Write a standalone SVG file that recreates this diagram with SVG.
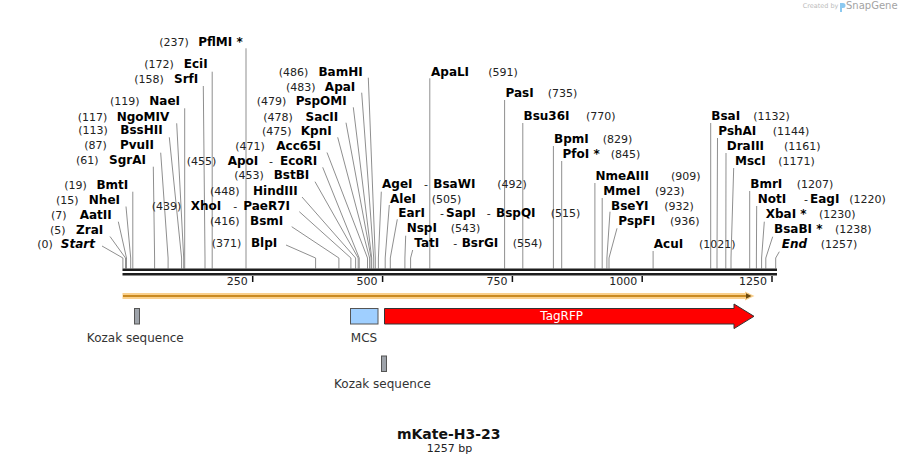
<svg xmlns="http://www.w3.org/2000/svg" width="900" height="466" viewBox="0 0 900 466">
<style>
.n{font-family:"DejaVu Sans",Verdana,sans-serif;font-size:11px;fill:#222}
.b{font-family:"DejaVu Sans",Verdana,sans-serif;font-size:12px;font-weight:bold;fill:#000}
.i{font-style:italic}
.e{text-anchor:end}
.m{text-anchor:middle}
.ln{fill:none;stroke:#8f8f8f;stroke-width:1}
.f{font-family:"DejaVu Sans",Verdana,sans-serif;font-size:12px;fill:#333}
.tk{stroke:#111;stroke-width:1.5}
</style>
<rect width="900" height="466" fill="#fff"/>
<g id="watermark">
<text x="802.7" y="8.3" style="font-family:'DejaVu Sans',sans-serif;font-size:6.5px;fill:#bbb">Created by</text>
<path d="M840 3 h3 a2.5 2.5 0 0 1 0 5 h-1 v4 h-2 z" fill="#8cc9f0"/>
<text x="846" y="8.7" style="font-family:'DejaVu Sans',sans-serif;font-size:10px;fill:#a3a3a3">SnapGene</text>
</g>
<g id="connectors">
<path class="ln" d="M102 246 L122.9 258 V268.5"/>
<path class="ln" d="M110 236.5 L125.5 258 V268.5"/>
<path class="ln" d="M118.3 221.7 L126.5 258 V268.5"/>
<path class="ln" d="M126 206.5 L130.7 258 V268.5"/>
<path class="ln" d="M132.8 191.7 V268.5"/>
<path class="ln" d="M153.3 166.7 L154.6 258 V268.5"/>
<path class="ln" d="M160.7 152.7 L168.1 258 V268.5"/>
<path class="ln" d="M169.3 137.3 L181.6 258 V268.5"/>
<path class="ln" d="M176.7 123.3 L183.7 258 V268.5"/>
<path class="ln" d="M184.7 108.3 V268.5"/>
<path class="ln" d="M203.3 86 L205 258 V268.5"/>
<path class="ln" d="M212.2 71.7 V268.5"/>
<path class="ln" d="M246 48.3 V268.5"/>
<path class="ln" d="M286 245 L315.6 258 V268.5"/>
<path class="ln" d="M291.7 226.7 L338.9 258 V268.5"/>
<path class="ln" d="M299.3 211.7 L350.9 258 V268.5"/>
<path class="ln" d="M302 197 L355.6 258 V268.5"/>
<path class="ln" d="M315 181.7 L358.2 258 V268.5"/>
<path class="ln" d="M322.7 167.3 L359.2 258 V268.5"/>
<path class="ln" d="M327 152.5 L367.5 258 V268.5"/>
<path class="ln" d="M337.7 137.3 L369.6 258 V268.5"/>
<path class="ln" d="M346 122.7 L371.1 258 V268.5"/>
<path class="ln" d="M353.3 107.3 L371.7 258 V268.5"/>
<path class="ln" d="M361.7 92.7 L373.7 258 V268.5"/>
<path class="ln" d="M368.3 77.7 L375.3 258 V268.5"/>
<path class="ln" d="M381.3 191.7 L378.4 258 V268.5"/>
<path class="ln" d="M389.3 205 L385.2 258 V268.5"/>
<path class="ln" d="M397.3 219.3 L390.3 258 V268.5"/>
<path class="ln" d="M405.7 235.7 L404.9 258 V268.5"/>
<path class="ln" d="M412.7 250 L410.6 258 V268.5"/>
<path class="ln" d="M429.8 78.3 V268.5"/>
<path class="ln" d="M504.6 100 V268.5"/>
<path class="ln" d="M522.8 123 V268.5"/>
<path class="ln" d="M553.4 146 V268.5"/>
<path class="ln" d="M561.7 161 V268.5"/>
<path class="ln" d="M594.9 183 V268.5"/>
<path class="ln" d="M602.2 198 V268.5"/>
<path class="ln" d="M610 211.7 L606.9 258 V268.5"/>
<path class="ln" d="M617 228.3 L609 258 V268.5"/>
<path class="ln" d="M653.1 251 V268.5"/>
<path class="ln" d="M710.7 123 V268.5"/>
<path class="ln" d="M717.5 138 L717 258 V268.5"/>
<path class="ln" d="M726 153 L725.8 258 V268.5"/>
<path class="ln" d="M733.7 168 L731 258 V268.5"/>
<path class="ln" d="M749.7 191 V268.5"/>
<path class="ln" d="M756.7 206 L756.4 258 V268.5"/>
<path class="ln" d="M764.3 221.7 L761.6 258 V268.5"/>
<path class="ln" d="M772.7 236.7 L765.8 258 V268.5"/>
<path class="ln" d="M779.3 251.7 L775.7 258 V268.5"/>
</g>
<g id="site-Start"><text class="n" x="37.3" y="248.3">(0)</text><text class="b i e" x="95" y="248.3">Start</text></g>
<g id="site-ZraI"><text class="n" x="50" y="234">(5)</text><text class="b e" x="103.3" y="234">ZraI</text></g>
<g id="site-AatII"><text class="n" x="51" y="219.3">(7)</text><text class="b e" x="111.7" y="219.3">AatII</text></g>
<g id="site-NheI"><text class="n" x="56" y="204">(15)</text><text class="b e" x="120" y="204">NheI</text></g>
<g id="site-BmtI"><text class="n" x="64.3" y="189.3">(19)</text><text class="b e" x="128.3" y="189.3">BmtI</text></g>
<g id="site-SgrAI"><text class="n" x="76" y="164.3">(61)</text><text class="b e" x="146" y="164.3">SgrAI</text></g>
<g id="site-PvuII"><text class="n" x="84.3" y="149.3">(87)</text><text class="b e" x="154" y="149.3">PvuII</text></g>
<g id="site-BssHII"><text class="n" x="78.3" y="134">(113)</text><text class="b e" x="162.7" y="134">BssHII</text></g>
<g id="site-NgoMIV"><text class="n" x="77.7" y="120.7">(117)</text><text class="b e" x="169.3" y="120.7">NgoMIV</text></g>
<g id="site-NaeI"><text class="n" x="110" y="105">(119)</text><text class="b e" x="180" y="105">NaeI</text></g>
<g id="site-SrfI"><text class="n" x="134.3" y="83.3">(158)</text><text class="b e" x="198.3" y="83.3">SrfI</text></g>
<g id="site-EciI"><text class="n" x="144.3" y="67.7">(172)</text><text class="b e" x="207.7" y="67.7">EciI</text></g>
<g id="site-PflMI"><text class="n" x="159.3" y="45.7">(237)</text><text class="b e" x="242.7" y="45.7">PflMI *</text></g>
<g id="site-BlpI"><text class="n" x="211.7" y="246.7">(371)</text><text class="b e" x="277.3" y="246.7">BlpI</text></g>
<g id="site-BsmI"><text class="n" x="210" y="225">(416)</text><text class="b e" x="283.3" y="225">BsmI</text></g>
<g id="site-XhoI"><text class="n" x="151.7" y="210">(439)</text><text class="b" x="190.7" y="210">XhoI</text><text class="n" x="233.3" y="210">-</text><text class="b e" x="290" y="210">PaeR7I</text></g>
<g id="site-HindIII"><text class="n" x="210" y="195">(448)</text><text class="b e" x="297.7" y="195">HindIII</text></g>
<g id="site-BstBI"><text class="n" x="234.3" y="179.3">(453)</text><text class="b e" x="309.3" y="179.3">BstBI</text></g>
<g id="site-ApoI"><text class="n" x="186.7" y="165">(455)</text><text class="b" x="227.7" y="165">ApoI</text><text class="n" x="269" y="165">-</text><text class="b e" x="317.3" y="165">EcoRI</text></g>
<g id="site-Acc65I"><text class="n" x="235.3" y="150">(471)</text><text class="b e" x="321" y="150">Acc65I</text></g>
<g id="site-KpnI"><text class="n" x="262" y="135.3">(475)</text><text class="b e" x="331.7" y="135.3">KpnI</text></g>
<g id="site-SacII"><text class="n" x="263.3" y="120.7">(478)</text><text class="b e" x="338.3" y="120.7">SacII</text></g>
<g id="site-PspOMI"><text class="n" x="256.7" y="105.3">(479)</text><text class="b e" x="346.7" y="105.3">PspOMI</text></g>
<g id="site-ApaI"><text class="n" x="286" y="90.7">(483)</text><text class="b e" x="355.3" y="90.7">ApaI</text></g>
<g id="site-BamHI"><text class="n" x="278.7" y="76">(486)</text><text class="b e" x="362.7" y="76">BamHI</text></g>
<g id="site-AgeI"><text class="b" x="382" y="188.3">AgeI</text><text class="n" x="424" y="188.3">-</text><text class="b" x="433.3" y="188.3">BsaWI</text><text class="n" x="497.3" y="188.3">(492)</text></g>
<g id="site-AleI"><text class="b" x="390" y="202.7">AleI</text><text class="n" x="431.7" y="202.7">(505)</text></g>
<g id="site-EarI"><text class="b" x="398.3" y="217.3">EarI</text><text class="n" x="440" y="217.3">-</text><text class="b" x="446" y="217.3">SapI</text><text class="n" x="486.7" y="217.3">-</text><text class="b" x="496" y="217.3">BspQI</text><text class="n" x="550.7" y="217.3">(515)</text></g>
<g id="site-NspI"><text class="b" x="406.7" y="232.3">NspI</text><text class="n" x="450.7" y="232.3">(543)</text></g>
<g id="site-TatI"><text class="b" x="414.3" y="247.3">TatI</text><text class="n" x="453.3" y="247.3">-</text><text class="b" x="461.7" y="247.3">BsrGI</text><text class="n" x="512.7" y="247.3">(554)</text></g>
<g id="site-ApaLI"><text class="b" x="431" y="75.7">ApaLI</text><text class="n" x="488.3" y="75.7">(591)</text></g>
<g id="site-PasI"><text class="b" x="505.5" y="96.7">PasI</text><text class="n" x="547.7" y="96.7">(735)</text></g>
<g id="site-Bsu36I"><text class="b" x="523.5" y="120">Bsu36I</text><text class="n" x="586" y="120">(770)</text></g>
<g id="site-BpmI"><text class="b" x="554" y="143.3">BpmI</text><text class="n" x="602.7" y="143.3">(829)</text></g>
<g id="site-PfoI"><text class="b" x="562.5" y="158.3">PfoI *</text><text class="n" x="610.7" y="158.3">(845)</text></g>
<g id="site-NmeAIII"><text class="b" x="595.5" y="180">NmeAIII</text><text class="n" x="671" y="180">(909)</text></g>
<g id="site-MmeI"><text class="b" x="603.3" y="195">MmeI</text><text class="n" x="655" y="195">(923)</text></g>
<g id="site-BseYI"><text class="b" x="611" y="210">BseYI</text><text class="n" x="664.3" y="210">(932)</text></g>
<g id="site-PspFI"><text class="b" x="618.3" y="225">PspFI</text><text class="n" x="670" y="225">(936)</text></g>
<g id="site-AcuI"><text class="b" x="653.8" y="248.3">AcuI</text><text class="n" x="699" y="248.3">(1021)</text></g>
<g id="site-BsaI"><text class="b" x="711.3" y="120">BsaI</text><text class="n" x="753.3" y="120">(1132)</text></g>
<g id="site-PshAI"><text class="b" x="718.3" y="135">PshAI</text><text class="n" x="772.7" y="135">(1144)</text></g>
<g id="site-DraIII"><text class="b" x="726.7" y="150">DraIII</text><text class="n" x="784" y="150">(1161)</text></g>
<g id="site-MscI"><text class="b" x="735" y="165">MscI</text><text class="n" x="778.3" y="165">(1171)</text></g>
<g id="site-BmrI"><text class="b" x="750.3" y="188.3">BmrI</text><text class="n" x="796.7" y="188.3">(1207)</text></g>
<g id="site-NotI"><text class="b" x="757.7" y="203.3">NotI</text><text class="n" x="804" y="203.3">-</text><text class="b" x="810" y="203.3">EagI</text><text class="n" x="849.3" y="203.3">(1220)</text></g>
<g id="site-XbaI"><text class="b" x="765.7" y="218.3">XbaI *</text><text class="n" x="819" y="218.3">(1230)</text></g>
<g id="site-BsaBI"><text class="b" x="774" y="233.3">BsaBI *</text><text class="n" x="835" y="233.3">(1238)</text></g>
<g id="site-End"><text class="b i" x="781.7" y="248.3">End</text><text class="n" x="820.7" y="248.3">(1257)</text></g>
<g id="backbone">
<rect x="122.5" y="268.5" width="654.5" height="2.5" fill="#1e1e1e"/>
<rect x="122.5" y="273" width="654.5" height="2.5" fill="#1e1e1e"/>
</g>
<g id="ruler">
<line class="tk" x1="252.7" y1="276" x2="252.7" y2="282"/><text class="n e" x="247.7" y="285">250</text>
<line class="tk" x1="382.6" y1="276" x2="382.6" y2="282"/><text class="n e" x="377.6" y="285">500</text>
<line class="tk" x1="512.4" y1="276" x2="512.4" y2="282"/><text class="n e" x="507.4" y="285">750</text>
<line class="tk" x1="642.2" y1="276" x2="642.2" y2="282"/><text class="n e" x="637.2" y="285">1000</text>
<line class="tk" x1="772" y1="276" x2="772" y2="282"/><text class="n e" x="767" y="285">1250</text>
</g>
<g id="orf">
<path d="M122.5 296 H749" stroke="#fad08c" stroke-width="6" fill="none"/>
<path d="M745 291.5 L754.5 296 L745 300.5 Z" fill="#fad08c"/>
<path d="M123 296 H748" stroke="#c98a22" stroke-width="1.8" fill="none"/>
<path d="M746 293.3 L751.5 296 L746 298.7 Z" fill="#6b4a10"/>
</g>
<g id="feat-kozak1">
<rect x="134.5" y="308.5" width="5" height="15.5" fill="#9ea3aa" stroke="#555" stroke-width="1"/>
<text class="f m" x="135.3" y="341.7">Kozak sequence</text>
</g>
<g id="feat-mcs">
<rect x="350.5" y="308.5" width="27.5" height="15.5" fill="#9fcfff" stroke="#555" stroke-width="1"/>
<text class="f m" x="364" y="341.7">MCS</text>
</g>
<g id="feat-kozak2">
<rect x="381.5" y="356" width="5" height="15.5" fill="#9ea3aa" stroke="#555" stroke-width="1"/>
<text class="f m" x="382.5" y="388.3">Kozak sequence</text>
</g>
<g id="feat-TagRFP">
<path d="M384.5 308.5 H734 V304 L754 316.3 L734 328.6 V324 H384.5 Z" fill="#ff0000" stroke="#333" stroke-width="1"/>
<text class="f m" x="561.7" y="320.3" style="fill:#fff">TagRFP</text>
</g>
<g id="title">
<text class="m" x="448.7" y="439" style="font-family:'DejaVu Sans',Verdana,sans-serif;font-size:14px;font-weight:bold;fill:#111">mKate-H3-23</text>
<text class="n m" x="449.5" y="452.3">1257 bp</text>
</g>
</svg>
